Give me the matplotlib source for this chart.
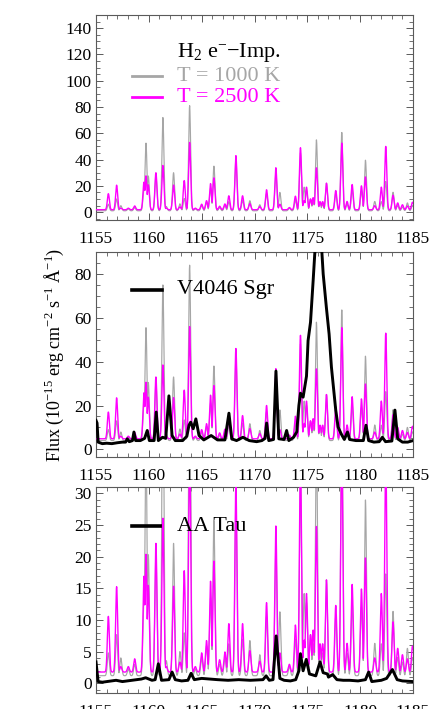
import numpy as np
import matplotlib
matplotlib.use("Agg")
import matplotlib.pyplot as plt
from matplotlib.ticker import MultipleLocator

plt.rcParams['font.family'] = ['Liberation Serif', 'DejaVu Serif']
plt.rcParams['mathtext.fontset'] = 'custom'
plt.rcParams['mathtext.rm'] = 'Liberation Serif'
plt.rcParams['mathtext.it'] = 'Liberation Serif:italic'
plt.rcParams['mathtext.bf'] = 'Liberation Serif:bold'

# ---- H2 electron-impact model line list (panel-1 flux units) ----
line_wave = [1156.17, 1156.95, 1157.35, 1158.06, 1158.66, 1159.54, 1159.73, 1159.95,
             1160.67, 1161.33, 1161.65, 1162.34, 1162.94, 1163.35, 1163.86, 1164.40,
             1165.00, 1165.46, 1165.84, 1166.16, 1166.70, 1167.20, 1167.57, 1168.24,
             1168.87, 1169.56, 1170.50, 1171.14, 1172.02, 1172.40, 1173.30, 1173.87,
             1174.35, 1174.70, 1174.92, 1175.30, 1175.55, 1175.86, 1176.20, 1176.45,
             1176.81, 1177.69, 1178.26, 1178.76, 1179.24, 1180.12, 1180.50, 1181.38,
             1182.00, 1182.42, 1183.11, 1183.55, 1184.00, 1184.47, 1184.95]
t1000_peak = [6.0, 10.0, 4.9, 2.5, 3.5, 18.0, 52.5, 27.5,
              28.0, 72.0, 4.3, 30.0, 6.3, 10.4, 81.0, 2.5,
              5.0, 7.5, 18.0, 35.0, 3.5, 5.0, 8.0, 40.0,
              9.0, 8.7, 5.6, 14.0, 30.0, 15.0, 3.0, 9.0,
              45.0, 19.0, 17.0, 10.0, 8.0, 55.0, 7.0, 6.0,
              22.0, 14.0, 60.6, 6.0, 17.0, 16.0, 39.5, 8.1,
              8.0, 23.3, 15.1, 5.0, 4.0, 7.0, 5.0]
t2500_peak = [14.0, 20.5, 3.0, 3.0, 4.7, 22.8, 27.6, 20.8,
              30.0, 35.5, 3.0, 20.6, 4.0, 24.0, 53.0, 3.0,
              6.0, 8.7, 21.7, 26.1, 4.5, 6.2, 12.4, 43.0,
              12.4, 6.5, 4.2, 17.0, 33.8, 6.0, 3.5, 12.1,
              49.0, 8.8, 19.0, 10.0, 11.0, 33.7, 8.0, 8.0,
              22.0, 16.4, 52.5, 8.1, 21.0, 20.0, 26.8, 4.9,
              19.0, 50.0, 12.8, 7.0, 5.6, 4.7, 7.5]
t1000_base = 1.0
t2500_base = 1.8
# model scaling (multiplier, offset) applied for each panel
model_scale = [1.0, 1.0, 0.72]
model_offset = [0.0, 3.0, 0.5]

v4046_wave = [1155.0, 1155.1, 1155.2, 1155.6, 1156.0, 1156.5, 1157.0, 1157.5, 1157.8,
              1157.96, 1158.15, 1158.45, 1158.59, 1158.75, 1159.2, 1159.6, 1159.85, 1160.05,
              1160.5, 1160.7, 1160.9, 1161.3, 1161.6, 1161.9, 1162.2, 1162.5, 1163.2,
              1163.6, 1163.8, 1163.96, 1164.2, 1164.45, 1164.75, 1165.2, 1165.9, 1166.5,
              1167.2, 1167.58, 1167.85, 1168.3, 1168.9, 1169.5, 1170.2, 1170.7, 1171.0,
              1171.15, 1171.35, 1171.8, 1172.03, 1172.3, 1172.8, 1173.04, 1173.25, 1173.7,
              1174.0, 1174.2, 1174.35, 1174.6, 1174.92, 1175.07, 1175.3, 1175.55, 1175.7,
              1176.05, 1176.35, 1176.5, 1176.8, 1177.06, 1177.28, 1177.5, 1177.69, 1177.91,
              1178.2, 1178.5, 1178.8, 1179.0, 1179.6, 1180.3, 1180.55, 1180.8, 1181.3,
              1181.8, 1182.1, 1182.4, 1183.0, 1183.29, 1183.55, 1184.0, 1184.5, 1185.0]
v4046_flux = [13.2, 12.0, 3.3, 2.6, 2.8, 2.6, 3.0, 3.3, 3.3,
              4.8, 3.5, 4.0, 7.9, 4.0, 4.0, 5.0, 8.6, 4.0,
              4.0, 17.0, 4.0, 5.5, 5.0, 24.4, 6.3, 4.0, 4.0,
              6.0, 11.0, 12.4, 9.4, 13.9, 6.3, 4.3, 6.3, 4.3,
              4.3, 16.5, 4.8, 4.0, 5.5, 4.0, 3.5, 4.0, 5.0,
              12.0, 4.0, 4.5, 35.7, 4.8, 4.5, 8.6, 4.0, 5.5,
              8.0, 20.0, 25.6, 23.8, 33.4, 49.6, 58.0, 77.0, 89.0,
              108.0, 92.0, 80.0, 64.8, 52.6, 37.5, 26.9, 17.8, 10.2,
              7.1, 4.5, 7.9, 4.5, 4.0, 4.0, 11.0, 4.0, 3.3,
              3.5, 5.5, 3.5, 3.8, 17.9, 4.8, 3.3, 3.3, 4.0]

aatau_wave = [1155.0, 1155.2, 1155.6, 1156.9, 1157.5, 1159.3, 1159.7, 1160.3, 1160.6,
              1160.9, 1161.2, 1161.9, 1162.2, 1162.5, 1163.1, 1163.7, 1164.0, 1164.3,
              1165.0, 1166.5, 1167.5, 1168.5, 1169.6, 1170.8, 1171.1, 1171.4, 1171.75,
              1172.05, 1172.4, 1172.8, 1173.4, 1173.9, 1174.2, 1174.35, 1174.6, 1174.9,
              1175.2, 1175.8, 1176.2, 1176.5, 1176.9, 1177.0, 1177.4, 1177.8, 1178.4,
              1179.0, 1179.8, 1180.5, 1180.8, 1181.1, 1182.0, 1182.5, 1183.05, 1183.5,
              1184.0, 1185.0]
aatau_flux = [3.4, 0.3, 0.2, 0.5, 0.3, 0.7, 0.9, 0.5, 0.6,
              3.1, 0.5, 0.6, 1.8, 0.6, 0.4, 0.5, 1.6, 0.6,
              0.8, 0.6, 0.5, 0.6, 0.5, 0.6, 1.2, 0.5, 0.6,
              7.5, 0.8, 0.5, 0.4, 0.6, 2.0, 4.7, 2.0, 3.8,
              1.5, 1.2, 3.4, 1.7, 1.5, 1.0, 1.4, 0.6, 0.5,
              0.5, 0.4, 0.6, 1.8, 0.3, 0.5, 0.8, 2.2, 0.6,
              0.4, 0.3]

star_labels = [None, "V4046 Sgr", "AA Tau"]
star_waves = [None, v4046_wave, aatau_wave]
star_fluxes = [None, v4046_flux, aatau_flux]

ylims = [(-6, 150), (-3.5, 90), (-1.5, 31)]
ymajor = [20, 20, 5]
yminor = [5, 5, 1]

GRAY = '#a6a6a6'
MAG = '#ff00ff'
FRAME = '#5a5a5a'


def model(base, peaks, grid):
    prof = np.full_like(grid, base)
    for c, h in zip(line_wave, peaks):
        prof = np.maximum(prof, base + (h - base) * np.exp(-0.5 * ((grid - c) / 0.095) ** 2))
    return prof


grid = np.arange(1155.0, 1185.0001, 0.01)
m1000 = model(t1000_base, t1000_peak, grid)
m2500 = model(t2500_base, t2500_peak, grid)

fig = plt.figure(figsize=(4.43, 7.09), dpi=100)
boxes = [(0.2167, 0.6897, 0.7156, 0.2891),
         (0.2167, 0.3554, 0.7156, 0.2891),
         (0.2167, 0.0226, 0.7156, 0.2906)]

for i, box in enumerate(boxes):
    ax = fig.add_axes(box)
    s, o = model_scale[i], model_offset[i]
    ax.plot(grid, m1000 * s + o, color=GRAY, lw=0.85, zorder=2)
    ax.plot(grid, m2500 * s + o, color=MAG, lw=1.0, zorder=3)
    if star_waves[i] is not None:
        ax.plot(star_waves[i], star_fluxes[i], color='black', lw=2.1, zorder=4)
    ax.set_xlim(1155, 1185)
    ax.set_ylim(*ylims[i])
    ax.xaxis.set_major_locator(MultipleLocator(5))
    ax.xaxis.set_minor_locator(MultipleLocator(1))
    ax.yaxis.set_major_locator(MultipleLocator(ymajor[i]))
    ax.yaxis.set_minor_locator(MultipleLocator(yminor[i]))
    ax.tick_params(which='both', direction='in', top=True, right=True,
                   color=FRAME, labelsize=12.5, labelcolor='black')
    ax.tick_params(axis='x', which='both', pad=8)
    ax.tick_params(axis='y', which='both', pad=3)
    ax.tick_params(which='major', length=5, width=0.7)
    ax.tick_params(which='minor', length=2.6, width=0.6)
    for sp in ax.spines.values():
        sp.set_color(FRAME)
        sp.set_linewidth(0.8)

    tr = ax.transAxes
    if i == 0:
        ax.text(0.2555, 0.815, r"H$_2$ e$^{-}$$-$Imp.", transform=tr, fontsize=16,
                va='center', ha='left')
        ax.plot([0.1136, 0.208], [0.702, 0.702], color=GRAY, lw=2.0, transform=tr)
        ax.text(0.2555, 0.702, "T = 1000 K", transform=tr, fontsize=16,
                va='center', ha='left', color=GRAY)
        ax.plot([0.1136, 0.208], [0.598, 0.598], color=MAG, lw=2.0, transform=tr)
        ax.text(0.2555, 0.598, "T = 2500 K", transform=tr, fontsize=16,
                va='center', ha='left', color=MAG)
    else:
        yy = 0.815 if i == 1 else 0.81
        ax.plot([0.1136, 0.208], [yy, yy], color='black', lw=2.6, transform=tr)
        ax.text(0.2555, yy, star_labels[i], transform=tr, fontsize=16,
                va='center', ha='left')
    if i == 1:
        ax.set_ylabel(r"Flux (10$^{-15}$ erg cm$^{-2}$ s$^{-1}$ Å$^{-1}$)", fontsize=13)
        ax.yaxis.set_label_coords(-0.095, 0.5)

fig.savefig("out.png", dpi=100)
